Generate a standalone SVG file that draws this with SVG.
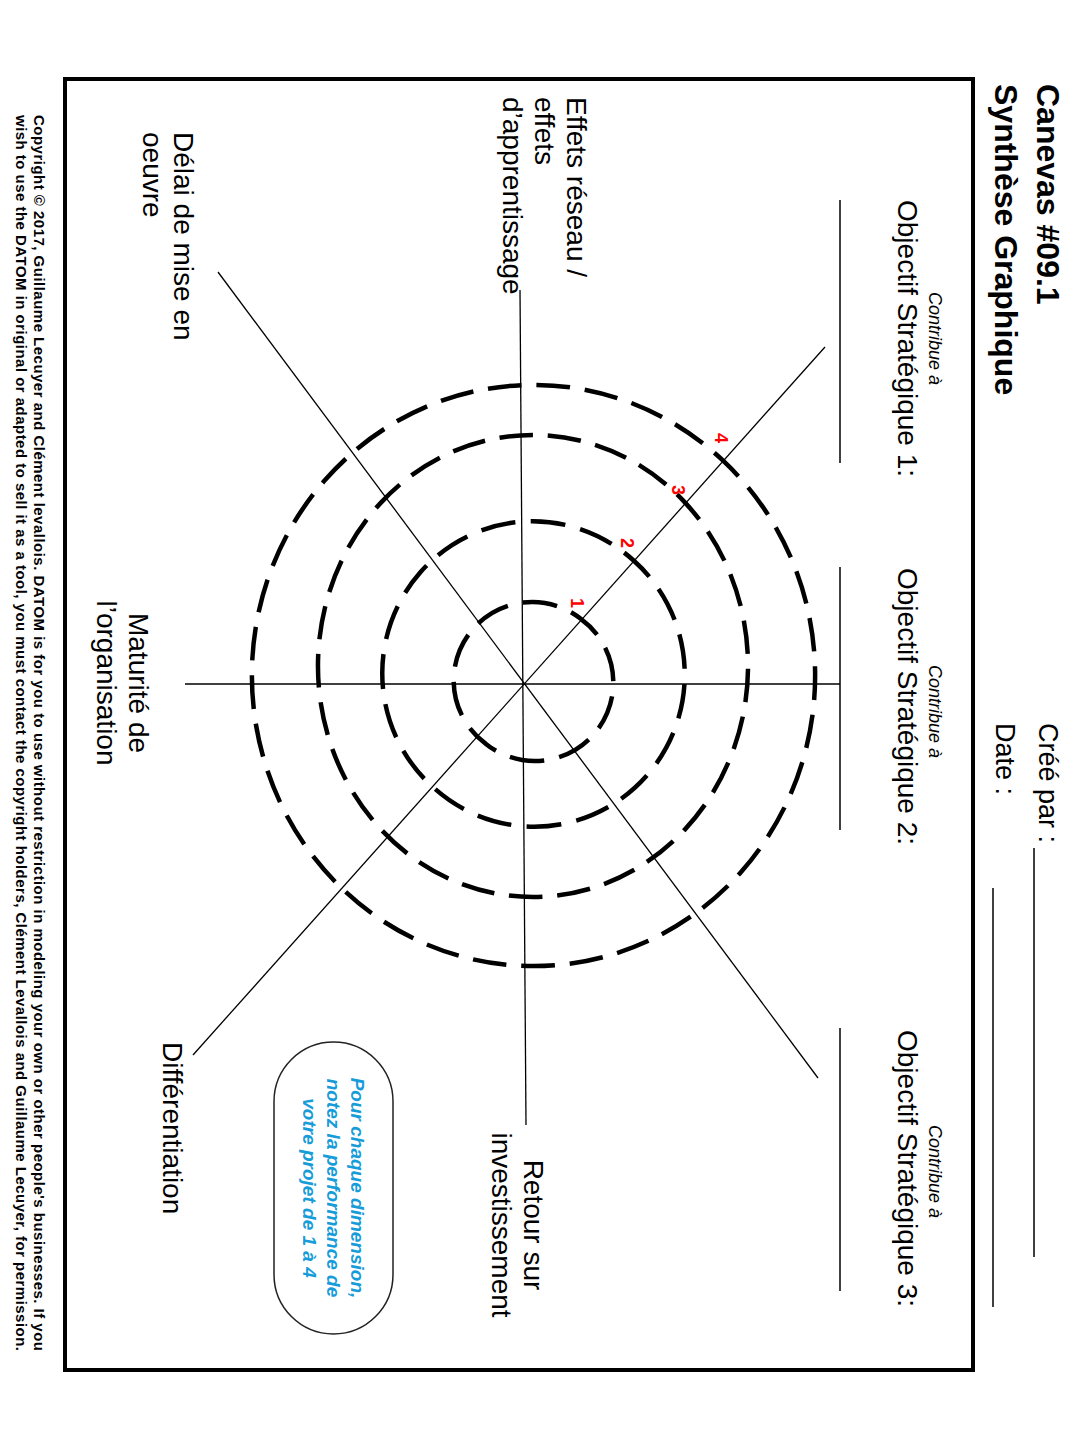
<svg xmlns="http://www.w3.org/2000/svg" width="1080" height="1440" viewBox="0 0 1080 1440">
<style>
text{font-family:"Liberation Sans",Arial,sans-serif;fill:#000}
.title{font-size:32px;font-weight:bold}
.hdr{font-size:27px}
.obj{font-size:28px}
.contr{font-size:18px;font-style:italic}
.dim{font-size:28px}
.note{font-size:19px;font-weight:bold;font-style:italic;fill:#169cd8}
.copy{font-size:15px;font-weight:bold}
.num{font-size:18px;font-weight:bold;fill:#ff0000}
.ring{fill:none;stroke:#000;stroke-width:4.5;stroke-dasharray:34 15;stroke-dashoffset:12}
.axis{stroke:#000;stroke-width:1.3;fill:none}
.rule{stroke:#000;stroke-width:1.5}
</style>
<rect width="1080" height="1440" fill="#fff"/>
<rect x="65" y="79" width="908" height="1291" fill="none" stroke="#000" stroke-width="4"/>

<g id="header">
<text class="title" transform="translate(1037,84) rotate(90)">Canevas #09.1</text>
<text class="title" transform="translate(995,84) rotate(90)">Synthèse Graphique</text>
<text class="hdr" transform="translate(1039,723) rotate(90)">Créé par :</text>
<text class="hdr" transform="translate(996,723) rotate(90)">Date :</text>
<line class="rule" x1="1034" y1="848" x2="1034" y2="1257"/>
<line class="rule" x1="993" y1="888" x2="993" y2="1307"/>
</g>

<g id="objectif1">
<text class="contr" transform="translate(929,292) rotate(90)">Contribue à</text>
<text class="obj" transform="translate(898,200) rotate(90)">Objectif Stratégique 1:</text>
<line class="rule" x1="840" y1="200" x2="840" y2="463"/>
</g>
<g id="objectif2">
<text class="contr" transform="translate(929,665) rotate(90)">Contribue à</text>
<text class="obj" transform="translate(898,568) rotate(90)">Objectif Stratégique 2:</text>
<line class="rule" x1="840" y1="567" x2="840" y2="830"/>
</g>
<g id="objectif3">
<text class="contr" transform="translate(929,1125) rotate(90)">Contribue à</text>
<text class="obj" transform="translate(898,1030) rotate(90)">Objectif Stratégique 3:</text>
<line class="rule" x1="840" y1="1028" x2="840" y2="1291"/>
</g>

<g id="rings">
<path class="ring" pathLength="490" d="M581.1,619.1 A78.5,78.5 0 1 1 485.9,743.9 A78.5,78.5 0 1 1 581.1,619.1 Z"/>
<path class="ring" pathLength="931" d="M633.6,560.5 A150.5,152 0 1 1 433.4,787.5 A150.5,152 0 1 1 633.6,560.5 Z"/>
<path class="ring" pathLength="1421" d="M685.3,502.9 A215,231 0 1 1 380.7,829.1 A215,231 0 1 1 685.3,502.9 Z"/>
<path class="ring" pathLength="1813" d="M723.1,460.7 A281.5,290.5 0 1 1 343.9,890.3 A281.5,290.5 0 1 1 723.1,460.7 Z"/>
</g>

<g id="connectors">
<line class="axis" x1="185" y1="684" x2="840" y2="684"/>
<line class="axis" x1="520" y1="290" x2="526" y2="1125"/>
<line class="axis" x1="218" y1="272" x2="818" y2="1078"/>
<line class="axis" x1="825" y1="347" x2="193" y2="1055"/>
</g>

<g id="scale">
<text class="num" text-anchor="middle" dominant-baseline="central" transform="translate(577,603) rotate(90)">1</text>
<text class="num" text-anchor="middle" dominant-baseline="central" transform="translate(627,543) rotate(90)">2</text>
<text class="num" text-anchor="middle" dominant-baseline="central" transform="translate(678,490) rotate(90)">3</text>
<text class="num" text-anchor="middle" dominant-baseline="central" transform="translate(721,438) rotate(90)">4</text>
</g>

<g id="dim-effets">
<text class="dim" transform="translate(567,97) rotate(90)">Effets réseau /</text>
<text class="dim" transform="translate(535,97) rotate(90)">effets</text>
<text class="dim" transform="translate(503,97) rotate(90)">d’apprentissage</text>
</g>
<g id="dim-delai">
<text class="dim" transform="translate(174,132) rotate(90)">Délai de mise en</text>
<text class="dim" transform="translate(143,132) rotate(90)">oeuvre</text>
</g>
<g id="dim-maturite">
<text class="dim" text-anchor="middle" transform="translate(129,683) rotate(90)">Maturité de</text>
<text class="dim" text-anchor="middle" transform="translate(97,683) rotate(90)">l’organisation</text>
</g>
<g id="dim-differentiation">
<text class="dim" transform="translate(163,1042) rotate(90)">Différentiation</text>
</g>
<g id="dim-retour">
<text class="dim" text-anchor="middle" transform="translate(524,1225) rotate(90)">Retour sur</text>
<text class="dim" text-anchor="middle" transform="translate(492,1225) rotate(90)">investissement</text>
</g>

<g id="note">
<rect x="274" y="1042" width="119" height="292" rx="59.5" ry="59.5" fill="none" stroke="#222" stroke-width="1.5"/>
<text class="note" text-anchor="middle" transform="translate(351,1188) rotate(90)">Pour chaque dimension,</text>
<text class="note" text-anchor="middle" transform="translate(327,1188) rotate(90)">notez la performance de</text>
<text class="note" text-anchor="middle" transform="translate(303,1188) rotate(90)">votre projet de 1 à 4</text>
</g>

<g id="copyright">
<text class="copy" textLength="1236" lengthAdjust="spacing" transform="translate(34,115) rotate(90)">Copyright © 2017, Guillaume Lecuyer and Clément levallois. DATOM is for you to use without restriction in modeling your own or other people's businesses. If you</text>
<text class="copy" textLength="1236" lengthAdjust="spacing" transform="translate(16,115) rotate(90)">wish to use the DATOM in original or adapted to sell it as a tool, you must contact the copyright holders, Clément Levallois and Guillaume Lecuyer, for permission.</text>
</g>
</svg>
